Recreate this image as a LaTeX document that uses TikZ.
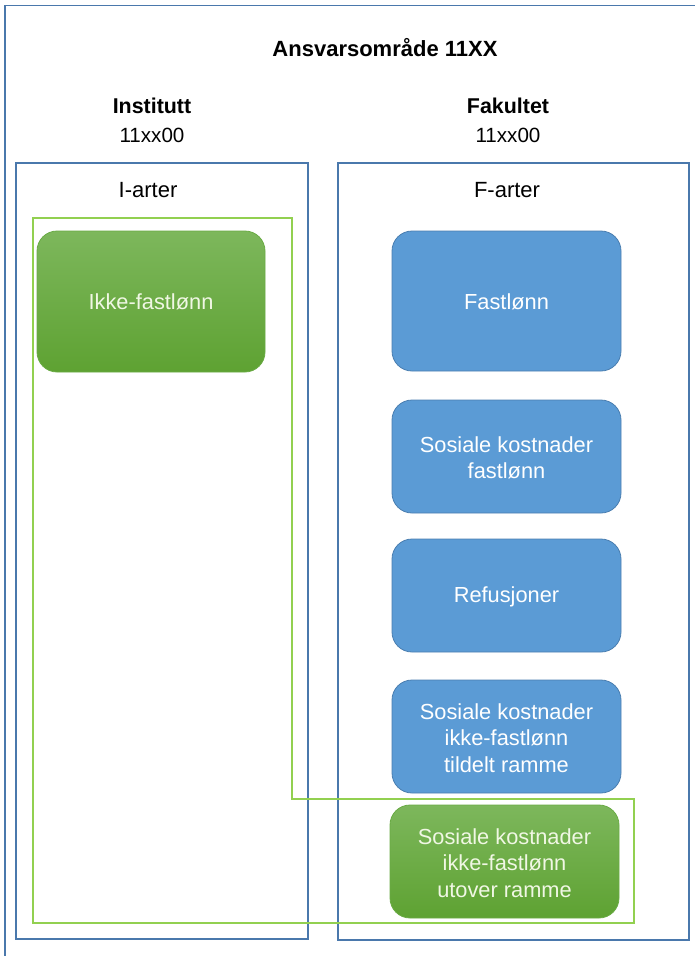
\documentclass[tikz,border=0pt]{standalone}
\usepackage{fontspec}
\setmainfont{Liberation Sans}
\definecolor{frameblue}{HTML}{4A78AC}
\definecolor{boxblue}{HTML}{5B9BD5}
\definecolor{boxblueborder}{HTML}{4A7EB0}
\definecolor{outgreen}{HTML}{92D050}
\definecolor{gtop}{HTML}{7DB75C}
\definecolor{gbot}{HTML}{5EA232}
\definecolor{gborder}{HTML}{6AAB45}
\definecolor{gtext}{HTML}{F0F7E4}
\tikzset{
  frame/.style={draw=frameblue, line width=1.8pt},
  gframe/.style={draw=outgreen, line width=1.8pt},
  bluebox/.style={draw=boxblueborder, line width=0.8pt, fill=boxblue, rounded corners=20pt},
  greenbox/.style={draw=gborder, line width=0.8pt, top color=gtop, bottom color=gbot, rounded corners=20pt},
  btext/.style={text=white, align=center, font=\fontsize{21.8}{26.5}\selectfont},
  gtxt/.style={text=gtext, align=center, font=\fontsize{21.8}{26.5}\selectfont},
  head/.style={font=\fontsize{21.4}{24}\selectfont\bfseries, text=black},
  sub/.style={font=\fontsize{20.6}{24}\selectfont, text=black},
  col/.style={font=\fontsize{22}{26}\selectfont, text=black},
}
\begin{document}
\begin{tikzpicture}[x=1pt,y=-1pt]
\useasboundingbox (0,0) rectangle (694,956);
% outer frame (cropped at right and bottom)
\draw[frame] (5,970) -- (5,5.5) -- (710,5.5);
% column frames
\draw[frame] (16,163) rectangle (308,939);
\draw[frame] (338,163) rectangle (689,940);
% green outline
\draw[gframe] (33,218) -- (292,218) -- (292,799) -- (634,799) -- (634,923) -- (33,923) -- cycle;
% boxes
\path[greenbox] (37,231) rectangle (265,372);
\node[gtxt] (ikke) at (151,302) {Ikke-fastlønn};
\path[bluebox] (392,231) rectangle (621,371);
\node[btext] (fast) at (506.5,302) {Fastlønn};
\path[bluebox] (392,400) rectangle (621,513);
\node[btext] (sosfast) at (506.5,458) {Sosiale kostnader\\fastlønn};
\path[bluebox] (392,539) rectangle (621,652);
\node[btext] (ref) at (506.5,596.5) {Refusjoner};
\path[bluebox] (392,680) rectangle (621,793);
\node[btext] (sostil) at (506.5,738) {Sosiale kostnader\\ikke-fastlønn\\tildelt ramme};
\path[greenbox] (390,805) rectangle (619,918);
\node[gtxt] (sosut) at (504.5,863) {Sosiale kostnader\\ikke-fastlønn\\utover ramme};
% labels
\node[head, font=\fontsize{22}{24}\selectfont\bfseries] (title) at (385,48) {Ansvarsområde 11XX};
\node[head] (inst) at (152,105.5) {Institutt};
\node[sub] (instn) at (152,135) {11xx00};
\node[head] (fak) at (508,105.5) {Fakultet};
\node[sub] (fakn) at (508,135) {11xx00};
\node[col] (iart) at (148,190) {I-arter};
\node[col] (fart) at (507,190) {F-arter};
\end{tikzpicture}
\end{document}
